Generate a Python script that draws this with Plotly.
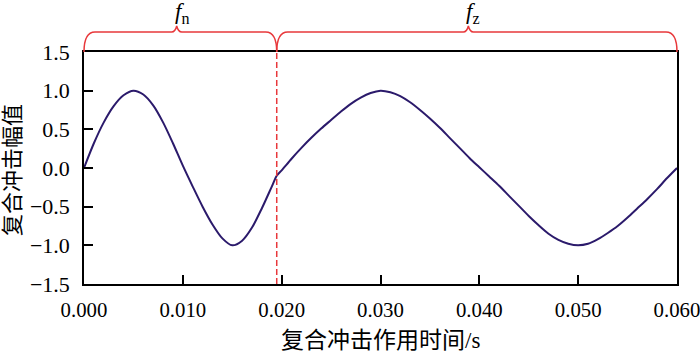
import plotly.graph_objects as go

# ---- data ----
time_s = [0.000, 0.001, 0.002, 0.003, 0.004, 0.005, 0.006, 0.007, 0.008, 0.009,
          0.010, 0.011, 0.012, 0.013, 0.014, 0.015, 0.016, 0.017, 0.018, 0.019,
          0.0195, 0.020, 0.021, 0.022, 0.023, 0.024, 0.025, 0.026, 0.027, 0.028,
          0.029, 0.030, 0.031, 0.032, 0.033, 0.034, 0.035, 0.036, 0.037, 0.038,
          0.039, 0.040, 0.041, 0.042, 0.043, 0.044, 0.045, 0.046, 0.047, 0.048,
          0.049, 0.050, 0.051, 0.052, 0.053, 0.054, 0.055, 0.056, 0.057, 0.058,
          0.059, 0.060]
amplitude = [0.00, 0.32, 0.59, 0.80, 0.94, 1.00, 0.95, 0.81, 0.59, 0.32,
             0.03, -0.24, -0.50, -0.73, -0.91, -1.00, -0.94, -0.77, -0.52, -0.24,
             -0.10, -0.03, 0.12, 0.26, 0.39, 0.51, 0.62, 0.73, 0.83, 0.91,
             0.97, 1.00, 0.98, 0.93, 0.85, 0.75, 0.64, 0.52, 0.39, 0.26,
             0.13, 0.01, -0.11, -0.23, -0.36, -0.49, -0.62, -0.74, -0.85, -0.93,
             -0.98, -1.00, -0.98, -0.92, -0.84, -0.75, -0.64, -0.52, -0.40, -0.27,
             -0.13, 0.00]

x_ticks = [0.00, 0.01, 0.02, 0.03, 0.04, 0.05, 0.06]
x_tick_labels = ["0.000", "0.010", "0.020", "0.030", "0.040", "0.050", "0.060"]
y_ticks = [-1.5, -1.0, -0.5, 0.0, 0.5, 1.0, 1.5]
y_tick_labels = ["\u22121.5", "\u22121.0", "\u22120.5", "0.0", "0.5", "1.0", "1.5"]
x_title = "复合冲击作用时间/s"
y_title = "复合冲击幅值"

boundary_t = 0.0195          # switch between f_n and f_z
segments = [                 # (start, end, brace tip, label)
    (0.0, boundary_t, 0.00938, "<i>f</i><sub>n</sub>"),
    (boundary_t, 0.06, 0.03889, "<i>f</i><sub>z</sub>"),
]

x_range = [0.0, 0.06]
y_range = [-1.5, 1.5]

# ---- figure ----
W, H = 700, 354
M = dict(l=84, r=23, t=52, b=70)
plot_w = W - M["l"] - M["r"]
plot_h = H - M["t"] - M["b"]

RED = "#e8383b"
LINE = "#2b1a6b"
SERIF = "Liberation Serif, 'Noto Sans CJK SC', serif"

fig = go.Figure()
fig.add_trace(go.Scatter(x=time_s, y=amplitude, mode="lines",
                         line=dict(color=LINE, width=2, shape="spline", smoothing=0.8),
                         showlegend=False, hoverinfo="skip"))

# dashed boundary line
fig.add_shape(type="line", xref="x", yref="y", x0=boundary_t, x1=boundary_t,
              y0=y_range[0], y1=y_range[1],
              line=dict(color=RED, width=1.5, dash="6px,3px"))


def px(t):
    return (t - x_range[0]) / (x_range[1] - x_range[0])


h = 20 / plot_h       # brace line height above plot (paper)
hp = 26 / plot_h      # brace tip height
rx = 11 / plot_w      # end curve width
tw = 5 / plot_w       # tip half width

for t0, t1, tip, label in segments:
    a, b, c = px(t0), px(t1), px(tip)
    y0, y1, y2 = 1.0, 1.0 + h, 1.0 + hp
    path = (f"M {a},{y0} Q {a},{y1} {a+rx},{y1} "
            f"L {c-tw},{y1} Q {c-tw*0.3},{y1} {c},{y2} "
            f"Q {c+tw*0.3},{y1} {c+tw},{y1} "
            f"L {b-rx},{y1} Q {b},{y1} {b},{y0}")
    fig.add_shape(type="path", xref="paper", yref="paper", path=path,
                  line=dict(color=RED, width=1.5))
    fig.add_annotation(xref="paper", yref="paper", x=c, y=1.0 + 39 / plot_h,
                       text=label, showarrow=False, xanchor="center", yanchor="middle",
                       xshift=5, font=dict(family=SERIF, size=23, color="black"))

# axis titles placed as annotations for precise positioning
fig.add_annotation(xref="paper", yref="paper", x=0.5, y=-M["b"] / plot_h,
                   text=x_title, showarrow=False, xanchor="center", yanchor="bottom",
                   borderpad=0,
                   font=dict(family=SERIF, size=23, color="black"))
fig.add_annotation(xref="paper", yref="paper", x=-72 / plot_w, y=114 / plot_h,
                   text=y_title, showarrow=False, textangle=-90,
                   xanchor="center", yanchor="middle",
                   font=dict(family=SERIF, size=22, color="black"))

axis_common = dict(showline=True, linecolor="black", linewidth=1.5, mirror=True,
                   ticks="inside", ticklen=9, tickwidth=1.5, tickcolor="black",
                   showgrid=False, zeroline=False, automargin=False,
                   ticklabeloverflow="allow")

fig.update_xaxes(range=x_range, tickvals=x_ticks, ticktext=x_tick_labels,
                 ticklabelstandoff=6,
                 tickfont=dict(family=SERIF, size=20.8, color="black"),
                 **axis_common)
fig.update_yaxes(range=y_range, tickvals=y_ticks, ticktext=y_tick_labels,
                 ticklabelstandoff=8,
                 tickfont=dict(family=SERIF, size=22, color="black"),
                 **axis_common)

fig.update_layout(width=W, height=H, margin=M, plot_bgcolor="white",
                  paper_bgcolor="white", font=dict(family=SERIF, color="black"))

fig.write_html("out.html", config={"displayModeBar": False},
               post_script="document.body.style.margin='0';")
